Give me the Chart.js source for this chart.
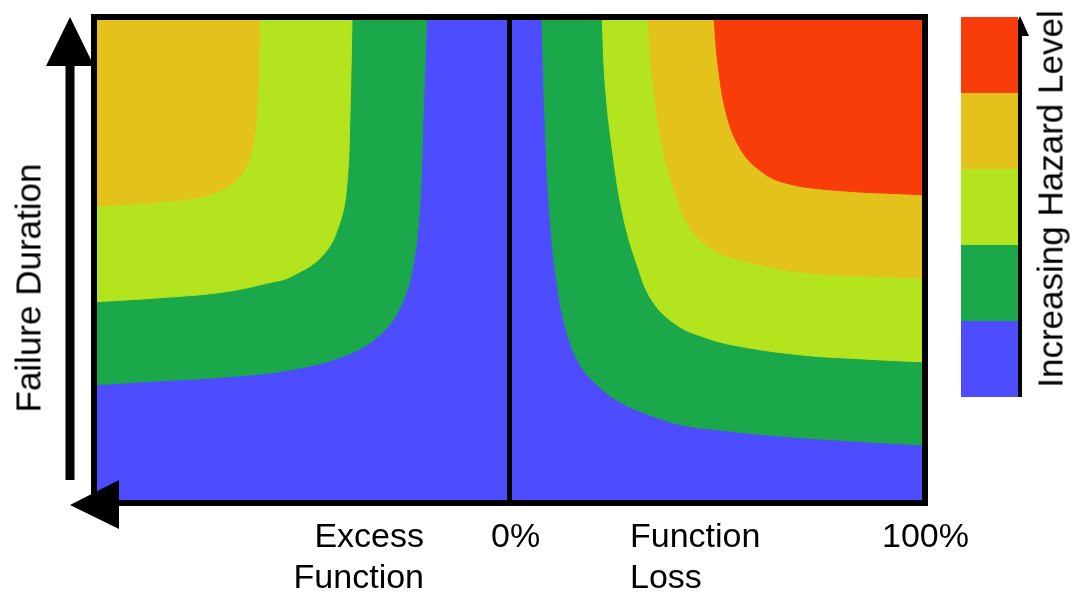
<!DOCTYPE html>
<html>
<head>
<meta charset="utf-8">
<script src="https://cdn.jsdelivr.net/npm/chart.js@4/dist/chart.umd.min.js"></script>
<style>
  html, body { margin: 0; padding: 0; background: #fff; }
  #wrap { position: relative; width: 1075px; height: 598px; overflow: hidden; font-family: "Liberation Sans", Arial, sans-serif; color: #000; }
  canvas { position: absolute; left: 0; top: 0; }
  .lbl { position: absolute; font-size: 34px; line-height: 1; white-space: nowrap; }
  .rot { position: absolute; font-size: 35px; line-height: 1; white-space: nowrap; transform: translate(-50%, -50%) rotate(-90deg); }
  .sw { position: absolute; left: 961px; width: 57px; height: 76px; }
</style>
</head>
<body>
<div id="wrap">
  <canvas id="c" width="1075" height="598"></canvas>
  <div class="lbl" style="right:651px; top:518px;">Excess</div>
  <div class="lbl" style="right:651px; top:559px;">Function</div>
  <div class="lbl" style="left:491px; top:518px;">0%</div>
  <div class="lbl" style="left:630px; top:518px;">Function</div>
  <div class="lbl" style="left:630px; top:559px;">Loss</div>
  <div class="lbl" style="left:882px; top:518px;">100%</div>
  <div class="rot" style="left:28px; top:288px;">Failure Duration</div>
  <div class="rot" style="left:1050px; top:199px;">Increasing Hazard Level</div>
  <div id="legendbar"></div>
</div>
<script>
// Hazard levels (lowest to highest) and their colours
const levels = ["Level 1", "Level 2", "Level 3", "Level 4", "Level 5"];
const levelColors = ["#4D4DFF", "#1BA84B", "#B4E41E", "#E4C21C", "#F83C0A"];

// x: -100..0 = excess function, 0..100 = function loss (%); y: failure duration (0..100)
// Right side (function loss) contour boundaries
const lossBlueGreen = [[7.8,100],[8.5,79.8],[9.7,59.3],[11.4,45.5],[13.8,35.2],[17.0,28.4],[21.1,24.3],[26.6,20.8],[33.8,18.1],[41.8,16.0],[50.7,15.0],[61.9,14.0],[77.9,13.0],[100,11.9]];
const lossGreenYellow = [[22.3,100],[23.0,86.6],[24.7,73.0],[27.3,59.3],[30.7,49.0],[34.5,41.4],[40.3,36.6],[46.6,34.2],[53.8,32.5],[69.9,30.5],[86.0,29.6],[100,29.0]];
const lossYellowOrange = [[33.3,100],[34.5,86.6],[36.9,73.0],[40.3,62.8],[43.4,56.6],[48.3,52.5],[53.8,50.4],[69.9,47.5],[86.0,46.7],[100,46.3]];
const lossOrangeRed = [[49.2,100],[50.2,90.1],[52.3,79.8],[55.5,73.0],[59.6,68.9],[65.8,66.0],[77.9,64.4],[100,63.4]];
// Left side (excess function) contour boundaries
const excessBlueGreen = [[-100,24.3],[-84.8,25.1],[-68.9,25.9],[-52.8,27.4],[-39.1,30.5],[-31.2,34.6],[-26.4,40.1],[-23.2,49.0],[-21.5,62.8],[-20.8,79.8],[-19.9,100]];
const excessGreenYellow = [[-100,41.4],[-84.8,42.2],[-68.9,43.4],[-56.9,45.5],[-52.8,46.5],[-44.9,51.0],[-40.8,57.8],[-39.1,66.0],[-38.4,79.8],[-37.9,100]];
const excessYellowOrange = [[-100,61.1],[-84.8,61.9],[-74.5,63.0],[-67.3,65.4],[-63.2,69.5],[-61.3,76.3],[-60.5,86.6],[-60.1,100]];
const baseLine = [[-100,0],[100,0]];
const zeroLine = [[0,0],[0,100]];

const pts = a => a.map(([x, y]) => ({ x, y }));
function area(data, color) {
  return { data: pts(data), showLine: true, fill: 'end', backgroundColor: color,
           borderColor: color, borderWidth: 1, pointRadius: 0, tension: 0.4 };
}

// legend colour bar (highest at top)
const lb = document.getElementById('legendbar');
levelColors.slice().reverse().forEach((c, i) => {
  const d = document.createElement('div');
  d.className = 'sw';
  d.style.top = (17 + i * 76) + 'px';
  d.style.background = c;
  lb.appendChild(d);
});

const decor = {
  id: 'decor',
  afterDraw(chart) {
    const { ctx, chartArea: a } = chart;
    ctx.save();
    ctx.fillStyle = '#000';
    ctx.strokeStyle = '#000';
    // frame
    ctx.lineWidth = 6;
    ctx.strokeRect(a.left, a.top, a.right - a.left, a.bottom - a.top);
    // vertical arrow (failure duration)
    const ax = a.left - 24;
    ctx.fillRect(ax - 4.5, a.top + 45, 9, (a.bottom - 23) - (a.top + 45));
    ctx.beginPath();
    ctx.moveTo(ax, a.top);
    ctx.lineTo(ax - 24, a.top + 49);
    ctx.lineTo(ax + 24, a.top + 49);
    ctx.closePath();
    ctx.fill();
    // horizontal arrow along bottom (pointing left)
    ctx.beginPath();
    ctx.moveTo(a.left - 24, a.bottom + 2);
    ctx.lineTo(a.left + 25, a.bottom - 23);
    ctx.lineTo(a.left + 25, a.bottom + 26);
    ctx.closePath();
    ctx.fill();
    // legend arrow
    const lx = 1020;
    ctx.fillRect(lx - 2, 32, 4, 397 - 32);
    ctx.beginPath();
    ctx.moveTo(lx, 16);
    ctx.lineTo(lx - 9, 36);
    ctx.lineTo(lx + 9, 36);
    ctx.closePath();
    ctx.fill();
    ctx.restore();
  }
};

new Chart(document.getElementById('c'), {
  type: 'scatter',
  data: {
    datasets: [
      { data: pts(zeroLine), showLine: true, fill: false, borderColor: '#000', borderWidth: 5, pointRadius: 0 },
      area(lossOrangeRed, levelColors[4]),
      area(lossYellowOrange, levelColors[3]),
      area(excessYellowOrange, levelColors[3]),
      area(lossGreenYellow, levelColors[2]),
      area(excessGreenYellow, levelColors[2]),
      area(lossBlueGreen, levelColors[1]),
      area(excessBlueGreen, levelColors[1]),
      area(baseLine, levelColors[0])
    ]
  },
  options: {
    responsive: false,
    animation: false,
    devicePixelRatio: 1,
    events: [],
    layout: { padding: { left: 94, right: 150, top: 17, bottom: 95 } },
    scales: {
      x: { type: 'linear', min: -100, max: 100, display: false },
      y: { type: 'linear', min: 0, max: 100, display: false }
    },
    plugins: { legend: { display: false }, tooltip: { enabled: false } }
  },
  plugins: [decor]
});
</script>
</body>
</html>
